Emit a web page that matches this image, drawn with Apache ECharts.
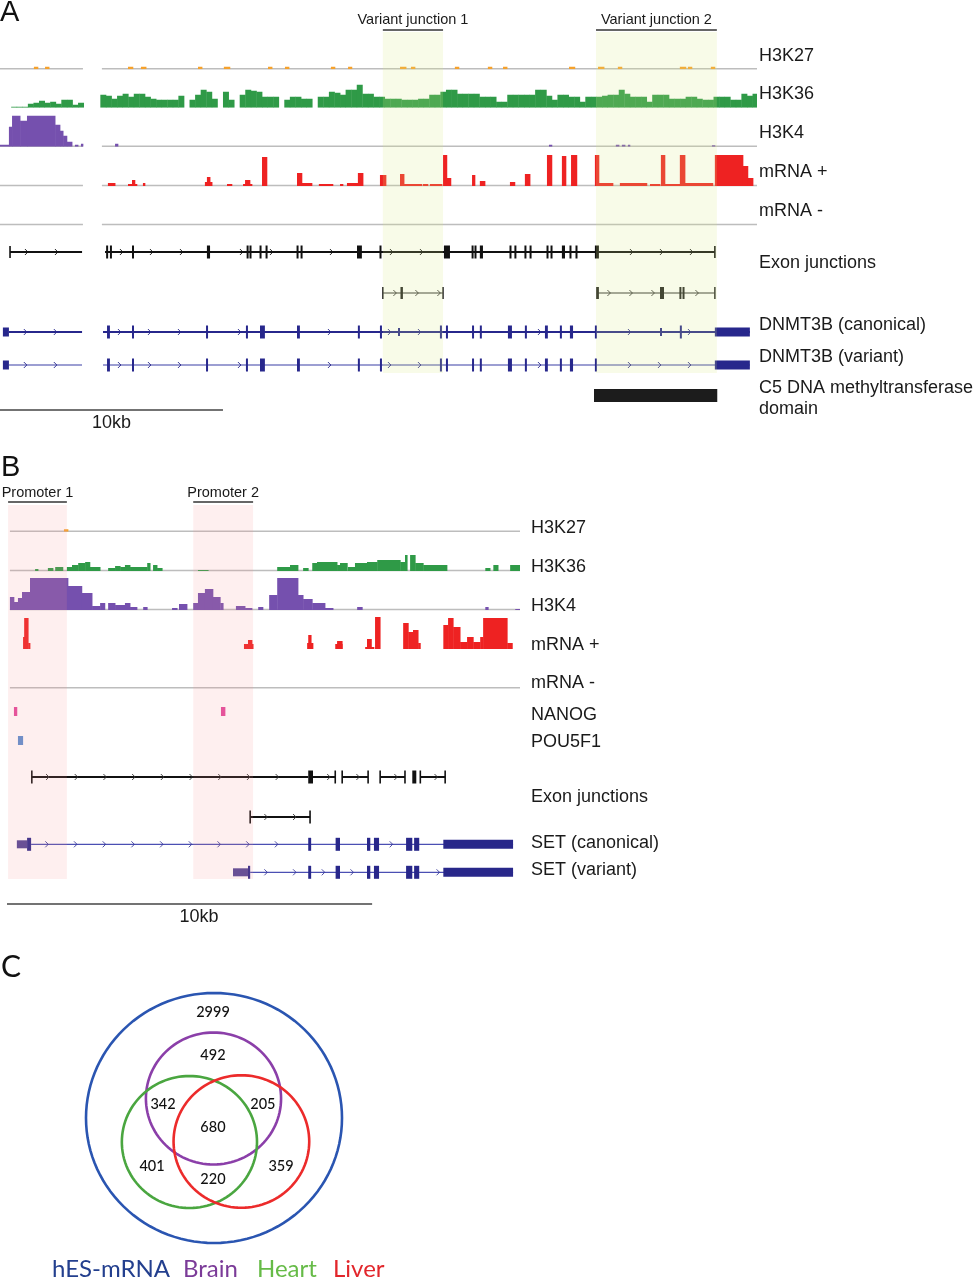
<!DOCTYPE html>
<html><head><meta charset="utf-8">
<script src="https://cdn.jsdelivr.net/npm/echarts@6/dist/echarts.min.js"></script>
<style>html,body{margin:0;padding:0;background:#fff}#c{width:977px;height:1280px}</style>
</head><body><div id="c"></div>
<script>
// ======================= DATA (genomic positions in kb) =======================
// ---- Panel A : DNMT3B locus ----
const trackNamesA = ['H3K27','H3K36','H3K4','mRNA +','mRNA -','Exon junctions','DNMT3B (canonical)','DNMT3B (variant)','C5 DNA methyltransferase','domain'];
const segmentsA = [[0,3.72],[4.57,33.95]];
const highlightA = [[17.17,19.87],[26.73,32.15]];
const highlightLabelsA = ['Variant junction 1','Variant junction 2'];
const h3k27A = [[1.52,1.70,2.5],[2.02,2.20,2.5],[5.74,5.96,2.5],[6.32,6.55,2.5],[8.88,9.06,2.5],[10.04,10.31,2.5],[12.02,12.20,2.5],[12.78,12.96,2.5],[14.84,15.02,2.5],[15.61,15.78,2.5],[17.94,18.21,2.5],[18.43,18.61,2.5],[20.40,20.58,2.5],[21.88,22.06,2.5],[22.56,22.74,2.5],[25.52,25.78,2.5],[26.82,27.09,2.5],[27.71,27.89,2.5],[30.49,30.76,2.5],[30.85,31.03,2.5],[31.88,32.06,2.5]];
const h3k36BinKbA = 0.25;
const h3k36A = [0,0,1,1,1,4,5,7,5,6,4,8,8,3,5,null,null,null,
 13,12,9,12,14,11,14,14,11,9,8,8,8,8,12,0,8,13,18,16,9,0,16,8,0,13,18,17,16,11,11,11,0,8,11,11,9,9,0,11,11,16,15,13,18,18,23,14,14,11,11,9,9,9,8,8,8,9,9,13,13,16,18,18,14,14,14,14,11,11,11,6,6,13,13,13,13,13,18,18,12,8,13,13,11,11,6,11,11,11,12,13,13,18,14,11,11,11,6,13,13,13,9,9,9,11,11,9,8,8,11,11,11,8,8,14,12,14];
const h3k4A = [[0,0.40,2],[0.40,0.54,20],[0.54,0.90,31],[0.90,1.21,26],[1.21,2.47,31],[2.47,2.69,22],[2.69,2.83,16],[2.83,3.00,11],[3.00,3.23,5],[3.36,3.50,2],[3.63,3.72,3],[5.16,5.29,3],[24.62,24.75,2],[27.62,27.76,2],[27.89,28.03,2],[28.16,28.25,2],[31.93,32.06,1.5]];
const mrnaPlusA = [[4.84,5.16,3],[5.74,6.14,2],[5.92,6.05,6],[6.41,6.50,3],[9.19,9.51,4],[9.28,9.42,9],[10.18,10.40,2],[10.90,11.30,2],[10.99,11.21,6],[11.75,11.97,29],[13.32,13.54,13],[13.54,13.99,3],[14.30,14.93,2],[15.25,15.38,2],[15.56,16.05,3],[16.05,16.28,13],[17.04,17.31,11],[17.94,18.12,12],[18.12,18.92,2],[18.97,19.19,2],[19.28,19.82,2],[19.87,20.04,31],[20.04,20.22,8],[21.17,21.30,11],[21.52,21.75,5],[22.87,23.09,4],[23.54,23.77,12],[24.53,24.75,31],[25.20,25.38,30],[25.61,25.87,31],[26.68,26.86,31],[26.86,27.49,3],[27.80,29.01,3],[29.15,29.60,2],[29.64,29.82,31],[29.82,30.49,2],[30.49,30.72,31],[30.72,31.97,3],[32.06,33.32,31],[33.32,33.54,20],[33.54,33.77,8]];
const mrnaMinusA = [];
const juncA1Spans = [[0.45,3.68,1,0],[4.71,32.06,0,1]];
const juncA1Blocks = [[4.76,4.80],[4.93,4.98],[5.92,6.01],[9.28,9.42],[11.06,11.10],[11.19,11.23],[11.64,11.68],[11.91,11.95],[13.30,13.34],[13.48,13.52],[16.01,16.23],[17.02,17.06],[19.91,20.18],[21.15,21.19],[21.28,21.32],[21.52,21.66],[22.85,22.89],[23.07,23.11],[23.52,23.56],[23.75,23.79],[24.51,24.55],[24.69,24.73],[25.20,25.34],[25.54,25.58],[25.81,25.85],[26.68,26.86]];
const juncA2Spans = [[17.17,19.87,1,1],[26.77,32.06,1,1]];
const juncA2Blocks = [[17.96,18.07],[26.77,26.86],[29.60,29.78],[30.47,30.51],[30.61,30.65]];
const dnmt3bSpans = [[0.40,3.68,0,0],[4.62,33.63,0,0]];
const dnmt3bCanonicalExons = [[0.13,0.40,'u'],[4.80,4.93,'c'],[5.92,5.99,'c'],[9.24,9.33,'c'],[11.03,11.08,'c'],[11.66,11.88,'c'],[13.32,13.45,'c'],[16.05,16.14,'c'],[17.04,17.13,'c'],[17.85,17.89,'s'],[19.73,19.82,'c'],[20.00,20.09,'c'],[21.17,21.21,'c'],[21.52,21.61,'c'],[22.78,22.96,'c'],[23.54,23.63,'c'],[24.44,24.57,'c'],[25.11,25.20,'c'],[25.56,25.70,'c'],[26.68,26.77,'c'],[29.60,29.64,'s'],[30.49,30.58,'c'],[32.06,33.63,'u']];
const dnmt3bVariantExons = [[0.13,0.40,'u'],[4.80,4.93,'c'],[5.92,5.99,'c'],[9.24,9.33,'c'],[11.03,11.08,'c'],[11.66,11.88,'c'],[13.32,13.45,'c'],[16.05,16.14,'c'],[17.04,17.13,'c'],[19.73,19.82,'c'],[20.00,20.09,'c'],[21.17,21.21,'c'],[21.52,21.61,'c'],[22.78,22.96,'c'],[23.54,23.63,'c'],[24.44,24.57,'c'],[25.11,25.20,'c'],[25.56,25.70,'c'],[26.68,26.77,'c'],[32.06,33.63,'u']];
const c5DomainA = [[26.64,32.15,1]];
const scaleBarKb = 10;

// ---- Panel B : SET locus ----
const trackNamesB = ['H3K27','H3K36','H3K4','mRNA +','mRNA -','NANOG','POU5F1','Exon junctions','SET (canonical)','SET (variant)'];
const segmentsB = [[0.08,14.05]];
const highlightB = [[0.03,1.64],[5.10,6.74]];
const highlightLabelsB = ['Promoter 1','Promoter 2'];
const h3k27B = [[1.56,1.67,2.5]];
const h3k36B = [[0.77,0.85,2],[1.12,1.26,3],[1.32,1.53,4],[1.64,1.78,4],[1.78,1.95,6],[1.95,2.14,8],[2.14,2.27,9],[2.27,2.55,4],[2.77,2.96,3],[2.96,3.10,5],[3.10,3.23,4],[3.23,3.37,6],[3.37,3.84,4],[3.84,3.92,8],[4.00,4.11,6],[4.11,4.25,3],[5.23,5.51,1],[7.40,7.75,4],[7.75,7.97,6],[8.11,8.25,3],[8.36,8.49,8],[8.49,9.04,9],[9.04,9.12,6],[9.12,9.32,8],[9.34,9.53,4],[9.53,9.86,8],[9.86,10.14,9],[10.14,10.77,11],[10.77,10.90,9],[10.90,10.96,16],[11.04,11.18,16],[11.18,11.40,8],[11.40,12.05,6],[13.10,13.23,3],[13.32,13.45,6],[13.78,14.05,6]];
const h3k4B = [[0.08,0.19,13],[0.19,0.30,8],[0.30,0.41,12],[0.41,0.63,18],[0.63,1.67,32],[1.67,2.05,24],[2.05,2.33,17],[2.33,2.55,4],[2.55,2.68,7],[2.77,2.96,7],[2.96,3.23,5],[3.23,3.37,7],[3.37,3.56,3],[3.73,3.84,3],[4.52,4.66,2],[4.71,4.93,6],[5.10,5.23,7],[5.23,5.42,17],[5.42,5.64,21],[5.64,5.84,13],[5.84,5.92,7],[6.27,6.52,4],[6.52,6.71,2],[6.88,7.01,3],[7.18,7.40,15],[7.40,7.97,32],[7.97,8.11,15],[8.11,8.36,11],[8.36,8.71,7],[8.71,8.93,2],[9.59,9.73,3],[13.10,13.18,3],[13.92,14.05,1]];
const mrnaPlusB = [[0.44,0.47,12],[0.47,0.58,31],[0.58,0.63,6],[6.49,6.74,5],[6.60,6.71,9],[8.22,8.38,6],[8.25,8.33,14],[8.99,9.18,5],[9.04,9.18,8],[9.81,10.05,2],[9.86,9.98,10],[10.08,10.22,32],[10.85,10.99,26],[10.99,11.12,17],[11.12,11.26,19],[11.26,11.32,6],[11.95,12.08,24],[12.08,12.22,31],[12.22,12.41,22],[12.41,12.60,7],[12.60,12.77,12],[12.77,12.96,7],[12.96,13.04,12],[13.04,13.70,31],[13.70,13.84,6]];
const mrnaMinusB = [];
const nanogB = [[0.19,0.27,1],[5.86,5.97,1]];
const pou5f1B = [[0.30,0.43,1]];
const juncB1Spans = [[0.68,8.25,1,0],[8.38,8.99,0,1],[9.18,9.89,1,1],[10.22,10.90,1,1],[11.32,12.00,1,1]];
const juncB1Blocks = [[8.25,8.38],[11.10,11.21]];
const juncB2Spans = [[6.66,8.30,1,1]];
const juncB2Blocks = [];
const setCanonicalSpans = [[0.66,13.86,0,0]];
const setVariantSpans = [[6.66,13.86,0,0]];
const setCanonicalExons = [[0.27,0.55,'l'],[0.55,0.66,'c'],[8.25,8.33,'c'],[9.00,9.12,'c'],[9.86,9.95,'c'],[10.05,10.19,'c'],[10.93,11.10,'c'],[11.15,11.29,'c'],[11.95,13.86,'u']];
const setVariantExons = [[6.19,6.60,'l'],[6.60,6.66,'c'],[8.25,8.33,'c'],[9.00,9.12,'c'],[9.86,9.95,'c'],[10.05,10.19,'c'],[10.93,11.10,'c'],[11.15,11.29,'c'],[11.95,13.86,'u']];

// ---- Panel C : Venn diagram ----
const vennSets = ['hES-mRNA','Brain','Heart','Liver'];
const vennCircles = [[50,50,50],[49.8,57.8,26.4],[40.4,40.4,26.4],[60.7,40.6,26.5]]; // cx, cy, r
const vennCounts = [[49.6,92.4,2999],[49.6,75.2,492],[30.1,55.6,342],[69.1,55.6,205],[49.6,46.4,680],[25.8,30.8,401],[49.6,25.6,220],[76.2,30.8,359]];

// ======================= LAYOUT / STYLE =======================
const FONT = '"Liberation Sans", Arial, Helvetica, sans-serif';
const C = {k27:'#f5a12c', k36:'#2f9a47', k4:'#7550ae', mrna:'#ee2222', base:'#bdbdbd', navy:'#27278c', navyLine:'#3b3ea6', black:'#111111'};
const panelA = {left:0, width:757, max:33.95};
const panelB = {left:7, width:513, max:14.05};
const option = {animation:false, backgroundColor:'#fff', grid:[], xAxis:[], yAxis:[], series:[], graphic:[]};

function addGrid(panel, top, height, ymax){
  const i = option.grid.length;
  option.grid.push({left:panel.left, top:top, width:panel.width, height:height});
  option.xAxis.push({type:'value', gridIndex:i, min:0, max:panel.max, show:false});
  option.yAxis.push({type:'value', gridIndex:i, min:0, max:ymax, show:false});
  return i;
}
function addSignal(gi, data, color, z){
  option.series.push({type:'custom', xAxisIndex:gi, yAxisIndex:gi, clip:true, silent:true, z:z||3, data:data,
    renderItem:function(p, api){
      const a = api.coord([api.value(0), 0]);
      const b = api.coord([api.value(1), api.value(2)]);
      return {type:'rect', shape:{x:a[0], y:b[1], width:Math.max(b[0]-a[0],1.5)+0.4, height:a[1]-b[1]}, style:{fill:color}};
    }});
}
function addBaseline(gi, segs){
  option.series.push({type:'custom', xAxisIndex:gi, yAxisIndex:gi, silent:true, z:2, data:segs,
    renderItem:function(p, api){
      const a = api.coord([api.value(0), 0]), b = api.coord([api.value(1), 0]);
      return {type:'line', shape:{x1:a[0], y1:a[1]-0.5, x2:b[0], y2:a[1]-0.5}, style:{stroke:C.base, lineWidth:1.6}};
    }});
}
function binsToIntervals(bins, w){
  const out = [];
  bins.forEach(function(v,i){ if (v !== null && v > 0) out.push([i*w, (i+1)*w, v]); });
  return out;
}
function addTrack(panel, baseline, data, color, segs){
  const gi = addGrid(panel, baseline-32, 32, 32);
  if (segs) addBaseline(gi, segs);
  addSignal(gi, data, color);
  return gi;
}
function addGene(panel, centerY, g){
  const gi = addGrid(panel, centerY-10, 20, 1);
  option.series.push({type:'custom', xAxisIndex:gi, yAxisIndex:gi, silent:true, z:3, data:[[0,0]],
    renderItem:function(p, api){
      const cs = p.coordSys; const ym = cs.y + cs.height/2;
      const X = function(v){ return api.coord([v,0])[0]; };
      const ch = [];
      g.spans.forEach(function(s){
        const xa = X(s[0]), xb = X(s[1]);
        ch.push({type:'line', shape:{x1:xa, y1:ym, x2:xb, y2:ym}, style:{stroke:g.lineColor, lineWidth:g.lineWidth}});
        for (let x = xa + g.chevStep*0.55; x < xb - 4; x += g.chevStep){
          if (g.exons.some(function(e){ return x > X(e[0])-5 && x < X(e[1])+5; })) continue;
          ch.push({type:'polyline', shape:{points:[[x-1.6,ym-3],[x+1.4,ym],[x-1.6,ym+3]]}, style:{stroke:g.chevColor, lineWidth:0.9, fill:'transparent'}});
        }
        if (s[2]) ch.push({type:'line', shape:{x1:xa, y1:ym-g.capH/2, x2:xa, y2:ym+g.capH/2}, style:{stroke:g.lineColor, lineWidth:1.6}});
        if (s[3]) ch.push({type:'line', shape:{x1:xb, y1:ym-g.capH/2, x2:xb, y2:ym+g.capH/2}, style:{stroke:g.lineColor, lineWidth:1.6}});
      });
      g.exons.forEach(function(e){
        const t = e[2] || 'c';
        const h = t==='u' ? g.utrH : (t==='l' ? g.lightH : (t==='s' ? 8 : g.exonH));
        const x0 = X(e[0]), x1 = X(e[1]);
        const w = Math.max(x1-x0, 2);
        ch.push({type:'rect', shape:{x:x0, y:ym-h/2, width:w, height:h}, style:{fill: t==='l' ? g.lightColor : g.color}});
      });
      return {type:'group', children:ch};
    }});
}
function addHighlight(panel, top, height, regions, labels, fill, textDy, lineDy){
  const gi = addGrid(panel, top, height, 1);
  option.series.push({type:'custom', xAxisIndex:gi, yAxisIndex:gi, silent:true, z:10, data:regions,
    renderItem:function(p, api){
      const cs = p.coordSys;
      const x0 = api.coord([api.value(0),0])[0], x1 = api.coord([api.value(1),0])[0];
      return {type:'group', children:[
        {type:'rect', shape:{x:x0, y:cs.y+22, width:x1-x0, height:cs.height-22}, style:{fill:fill}},
        {type:'line', shape:{x1:x0, y1:cs.y+lineDy, x2:x1, y2:cs.y+lineDy}, style:{stroke:'#333', lineWidth:1.5}},
        {type:'text', x:(x0+x1)/2, y:cs.y+textDy, style:{text:labels[p.dataIndex], fill:'#1a1a1a', font:'14.5px '+FONT, align:'center', verticalAlign:'middle', textAlign:'center', textVerticalAlign:'middle'}}
      ]};
    }});
}
function addScaleBar(panel, top, labelKb){
  const gi = addGrid(panel, top, 30, 1);
  option.series.push({type:'custom', xAxisIndex:gi, yAxisIndex:gi, silent:true, z:3, data:[[0, scaleBarKb]],
    renderItem:function(p, api){
      const cs = p.coordSys;
      const x0 = api.coord([api.value(0),0])[0], x1 = api.coord([api.value(1),0])[0], xl = api.coord([labelKb,0])[0];
      return {type:'group', children:[
        {type:'line', shape:{x1:x0, y1:cs.y+10, x2:x1, y2:cs.y+10}, style:{stroke:'#444', lineWidth:1.5}},
        {type:'text', x:xl, y:cs.y+23, style:{text:scaleBarKb+'kb', fill:'#1a1a1a', font:'18px '+FONT, align:'center', verticalAlign:'middle', textAlign:'center', textVerticalAlign:'middle'}}
      ]};
    }});
}
function label(text, x, y, size, color, family, weight){
  option.graphic.push({type:'text', x:x, y:y, silent:true, z:20, style:{text:text, fill:color||'#1a1a1a', font:(weight?weight+' ':'')+(size||18)+'px '+(family||FONT), align:'left', verticalAlign:'middle', textAlign:'left', textVerticalAlign:'middle'}});
}

// ======================= PANEL A =======================
addTrack(panelA, 69.3, h3k27A, C.k27, segmentsA);
addTrack(panelA, 107.7, binsToIntervals(h3k36A, h3k36BinKbA), C.k36, null);
addTrack(panelA, 146.7, h3k4A, C.k4, segmentsA);
addTrack(panelA, 186, mrnaPlusA, C.mrna, segmentsA);
addTrack(panelA, 225, mrnaMinusA, C.mrna, segmentsA);
addGene(panelA, 252, {spans:juncA1Spans, exons:juncA1Blocks, color:C.black, lineColor:C.black, lineWidth:2, exonH:13, utrH:9, capH:12, chevStep:30, chevColor:C.black});
addGene(panelA, 293, {spans:juncA2Spans, exons:juncA2Blocks, color:'#222', lineColor:'#333', lineWidth:1.2, exonH:12, utrH:9, capH:12, chevStep:22, chevColor:'#333'});
addGene(panelA, 332, {spans:dnmt3bSpans, exons:dnmt3bCanonicalExons, color:C.navy, lineColor:C.navy, lineWidth:2, exonH:13, utrH:9, capH:0, chevStep:30, chevColor:C.navy});
addGene(panelA, 365, {spans:dnmt3bSpans, exons:dnmt3bVariantExons, color:C.navy, lineColor:C.navyLine, lineWidth:1.2, exonH:13, utrH:9, capH:0, chevStep:30, chevColor:C.navy});
(function(){ const gi = addGrid(panelA, 389, 13, 1); addSignal(gi, c5DomainA, '#1c1c1c'); })();
addHighlight(panelA, 10, 363, highlightA, highlightLabelsA, 'rgba(218,234,132,0.19)', 10, 20);
addScaleBar(panelA, 400, 5.0);
const yA = [56, 94.3, 132.7, 171.7, 211, 263.3, 325.5, 357.5, 388.5, 409];
trackNamesA.forEach(function(t,i){ label(t, 759, yA[i], 18); });

// ======================= PANEL B =======================
addTrack(panelB, 531.7, h3k27B, C.k27, segmentsB);
addTrack(panelB, 571, h3k36B, C.k36, segmentsB);
addTrack(panelB, 610, h3k4B, C.k4, segmentsB);
addTrack(panelB, 649, mrnaPlusB, C.mrna, null);
addTrack(panelB, 688.3, mrnaMinusB, C.mrna, segmentsB);
(function(){ const gi = addGrid(panelB, 707, 9, 1); addSignal(gi, nanogB, '#e2489c'); })();
(function(){ const gi = addGrid(panelB, 736, 9, 1); addSignal(gi, pou5f1B, '#5b8fd0'); })();
addGene(panelB, 777, {spans:juncB1Spans, exons:juncB1Blocks, color:C.black, lineColor:C.black, lineWidth:2, exonH:13, utrH:9, capH:13, chevStep:28.7, chevColor:'#333'});
addGene(panelB, 817, {spans:juncB2Spans, exons:juncB2Blocks, color:C.black, lineColor:C.black, lineWidth:2, exonH:13, utrH:9, capH:13, chevStep:28.7, chevColor:'#333'});
addGene(panelB, 844.3, {spans:setCanonicalSpans, exons:setCanonicalExons, color:'#28278a', lineColor:'#4b4fb3', lineWidth:1.3, exonH:13, utrH:9, lightH:8, lightColor:'#514596', capH:0, chevStep:28.7, chevColor:'#3a3a9a'});
addGene(panelB, 872.3, {spans:setVariantSpans, exons:setVariantExons, color:'#28278a', lineColor:'#4b4fb3', lineWidth:1.3, exonH:13, utrH:9, lightH:8, lightColor:'#514596', capH:0, chevStep:28.7, chevColor:'#3a3a9a'});
addHighlight(panelB, 483, 396, highlightB, highlightLabelsB, 'rgba(245,150,150,0.15)', 10, 19);
addScaleBar(panelB, 894, 5.26);
const yB = [528.3, 566.7, 606, 645, 683.3, 715, 741.7, 796.7, 843.3, 870.5];
trackNamesB.forEach(function(t,i){ label(t, 531, yB[i], 18); });

// ======================= PANEL C (Venn) =======================
const vennColors = ['#2a55b1','#8b3fa9','#4aa640','#ec2b2b'];
const vennTextColors = ['#233f8e','#7b3b98','#66bb47','#e2262b'];
(function(){
  const i = option.grid.length;
  option.grid.push({left:86, top:993, width:256, height:250});
  option.xAxis.push({type:'value', gridIndex:i, min:0, max:100, show:false});
  option.yAxis.push({type:'value', gridIndex:i, min:0, max:100, show:false});
  option.series.push({type:'custom', name:'venn', xAxisIndex:i, yAxisIndex:i, silent:true, z:3, data:vennCircles,
    renderItem:function(p, api){
      const cx = api.value(0), cy = api.value(1), r = api.value(2);
      const pts = [];
      for (let k = 0; k < 120; k++){ const t = 2*Math.PI*k/120; pts.push(api.coord([cx + r*Math.cos(t), cy + r*Math.sin(t)])); }
      return {type:'polygon', shape:{points:pts}, style:{fill:'transparent', stroke:vennColors[p.dataIndex], lineWidth:2.6}};
    }});
  option.series.push({type:'custom', name:'counts', xAxisIndex:i, yAxisIndex:i, silent:true, z:4, data:vennCounts,
    renderItem:function(p, api){
      const pt = api.coord([api.value(0), api.value(1)]);
      return {type:'text', x:pt[0], y:pt[1], style:{text:String(api.value(2)), fill:'#111', font:'500 14.5px Lato, "Open Sans", sans-serif', align:'center', verticalAlign:'middle', textAlign:'center', textVerticalAlign:'middle'}};
    }});
})();
const legendX = [52, 183, 257, 333];
vennSets.forEach(function(s,i){ label(s, legendX[i], 1269, 24, vennTextColors[i], 'Lato, "Open Sans", sans-serif'); });

// Panel letters
label('A', 0, 13, 29, '#111');
label('B', 1, 468, 29, '#111');
label('C', 1, 967, 30, '#111', 'Lato, "Open Sans", sans-serif');

const chart = echarts.init(document.getElementById('c'), null, {renderer:'canvas'});
chart.setOption(option);
</script></body></html>
